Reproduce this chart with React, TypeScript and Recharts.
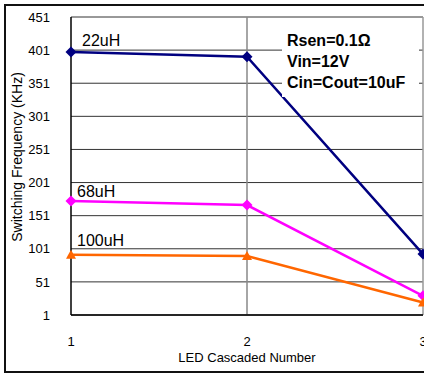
import { CartesianGrid, Label, Line, LineChart, ReferenceLine, XAxis, YAxis } from 'recharts'

const ledCount = [1, 2, 3]
const freq22uH = [398, 391, 93]
const freq68uH = [173, 167, 30]
const freq100uH = [92, 90, 20]
const yTicks = [1, 51, 101, 151, 201, 251, 301, 351, 401, 451]
const notes = ['Rsen=0.1Ω', 'Vin=12V', 'Cin=Cout=10uF']

const data = ledCount.map((n, i) => ({
  n,
  l22: freq22uH[i],
  l68: freq68uH[i],
  l100: freq100uH[i],
}))

const FONT = '"Liberation Sans", Arial, sans-serif'

const Diamond = (color: string) => (props: any) => {
  const { cx, cy, index } = props
  if (cx == null || cy == null) return <g key={index} />
  const r = 5.5
  return (
    <polygon
      key={index}
      points={`${cx},${cy - r} ${cx + r},${cy} ${cx},${cy + r} ${cx - r},${cy}`}
      fill={color}
    />
  )
}

const Triangle = (color: string) => (props: any) => {
  const { cx, cy, index } = props
  if (cx == null || cy == null) return <g key={index} />
  return (
    <polygon
      key={index}
      points={`${cx},${cy - 5} ${cx + 5},${cy + 4} ${cx - 5},${cy + 4}`}
      fill={color}
    />
  )
}

const seriesLabel = (text: string, dx: number, dy: number) => (props: any) => {
  const { x, y, index } = props
  if (index !== 0) return null
  return (
    <text x={x + dx} y={y + dy} fontSize={16} fontFamily={FONT} fill="#000">
      {text}
    </text>
  )
}

// rotated y-axis title, a little above the plot's middle like the original
const yTitle = (props: any) => {
  const { viewBox } = props
  const cx = 22
  const cy = viewBox.y + viewBox.height / 2 - 9
  return (
    <text
      x={cx}
      y={cy}
      transform={`rotate(-90 ${cx} ${cy})`}
      textAnchor="middle"
      fontSize={14}
      fontFamily={FONT}
      fill="#000"
    >
      Switching Frequency (KHz)
    </text>
  )
}

export default function App() {
  return (
    <div
      style={{
        position: 'absolute',
        left: 0,
        top: 0,
        width: 424,
        height: 374,
        overflow: 'hidden',
        background: '#fff',
      }}
    >
      <div
        style={{
          position: 'absolute',
          left: 4,
          top: 4,
          width: 460,
          height: 369,
          boxSizing: 'border-box',
          border: '2px solid #111',
        }}
      />
      <div style={{ position: 'absolute', left: 0, top: 0 }}>
        <LineChart
          width={440}
          height={374}
          data={data}
          margin={{ top: 17, right: 17, bottom: 0, left: 0 }}
        >
          <CartesianGrid vertical={false} stroke="#333" strokeWidth={1} />
          <ReferenceLine x={2} stroke="#888" strokeWidth={1.5} />
          <ReferenceLine x={3} stroke="#999" strokeWidth={1.5} />
          <XAxis
            dataKey="n"
            type="number"
            domain={[1, 3]}
            ticks={ledCount}
            height={59}
            axisLine={{ stroke: '#000', strokeWidth: 1.5 }}
            tickLine={false}
            tickMargin={16}
            tick={{ fill: '#000', fontSize: 13, fontFamily: FONT }}
          >
            <Label
              value="LED Cascaded Number"
              position="insideBottom"
              offset={12}
              style={{ fill: '#000', fontSize: 13, fontFamily: FONT }}
            />
          </XAxis>
          <YAxis
            type="number"
            domain={[1, 451]}
            ticks={yTicks}
            width={71}
            axisLine={{ stroke: '#000', strokeWidth: 1.5 }}
            tickLine={false}
            tickMargin={15}
            tick={{ fill: '#000', fontSize: 13, fontFamily: FONT }}
          >
            <Label content={yTitle} />
          </YAxis>
          <Line
            dataKey="l22"
            stroke="#000080"
            strokeWidth={2.5}
            dot={Diamond('#000080')}
            label={seriesLabel('22uH', 11, -6)}
            isAnimationActive={false}
          />
          <Line
            dataKey="l68"
            stroke="#ff00ff"
            strokeWidth={2.5}
            dot={Diamond('#ff00ff')}
            label={seriesLabel('68uH', 6, -4)}
            isAnimationActive={false}
          />
          <Line
            dataKey="l100"
            stroke="#ff6600"
            strokeWidth={2.5}
            dot={Triangle('#ff6600')}
            label={seriesLabel('100uH', 6, -9)}
            isAnimationActive={false}
          />
        </LineChart>
      </div>
      <div
        style={{
          position: 'absolute',
          left: 282,
          top: 30,
          width: 137,
          height: 67,
          background: '#fff',
          paddingLeft: 5,
          boxSizing: 'border-box',
          fontFamily: FONT,
          fontWeight: 'bold',
          fontSize: 16,
          lineHeight: '21px',
          color: '#000',
        }}
      >
        {notes.map((t) => (
          <div key={t}>{t}</div>
        ))}
      </div>
    </div>
  )
}
